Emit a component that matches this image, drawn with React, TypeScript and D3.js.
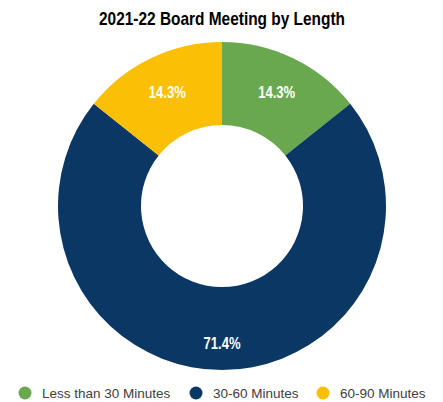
import React from "react";
import * as d3 from "d3";

const categories = ["Less than 30 Minutes", "30-60 Minutes", "60-90 Minutes"];
const meetings = [1, 5, 1];
const colors = ["#6aa84f", "#0b3764", "#fbbf05"];
const legendX = [25, 196, 323];

export default function App() {
  const W = 443, H = 402;
  const cx = 222, cy = 206, outerR = 164, innerR = 81;
  const total = d3.sum(meetings);
  const pie = d3.pie<number>().sort(null).value((d) => d)(meetings);
  const arc = d3.arc<d3.PieArcDatum<number>>().innerRadius(innerR).outerRadius(outerR);
  const fmt = (v: number) => ((v / total) * 100).toFixed(1) + "%";
  const narrow = "'Liberation Sans Narrow', 'Arial Narrow', 'Liberation Sans', Arial, sans-serif";
  return (
    <div style={{ position: "fixed", left: 0, top: 0, width: W, height: H, overflow: "hidden" }}>
      <svg width={W} height={H} style={{ display: "block", fontFamily: "'Liberation Sans', Arial, sans-serif" }}>
        <rect width={W} height={H} fill="#fff" />
        <text x={cx} y={25} textAnchor="middle" fontSize={18.5} fontWeight="bold" fill="#000"
          fontFamily={narrow} textLength={246} lengthAdjust="spacingAndGlyphs">
          2021-22 Board Meeting by Length
        </text>
        <g transform={`translate(${cx},${cy})`}>
          {pie.map((p, i) => (
            <path key={i} d={arc(p) || ""} fill={colors[i]} />
          ))}
          {pie.map((p, i) => {
            const lr = p.value / total > 0.5 ? 137 : 126;
            const c = d3.arc<d3.PieArcDatum<number>>().innerRadius(lr).outerRadius(lr).centroid(p);
            return (
              <text key={i} x={c[0]} y={c[1] + 5.5} textAnchor="middle"
                fontSize={16} fontWeight="bold" fill="#fff" fontFamily={narrow}
                textLength={37} lengthAdjust="spacingAndGlyphs">
                {fmt(p.value)}
              </text>
            );
          })}
        </g>
        <g>
          {categories.map((c, i) => (
            <g key={i}>
              <circle cx={legendX[i]} cy={393} r={6.5} fill={colors[i]} />
              <text x={legendX[i] + 17} y={398} fontSize={13.5} fill="#404040">{c}</text>
            </g>
          ))}
        </g>
      </svg>
    </div>
  );
}
